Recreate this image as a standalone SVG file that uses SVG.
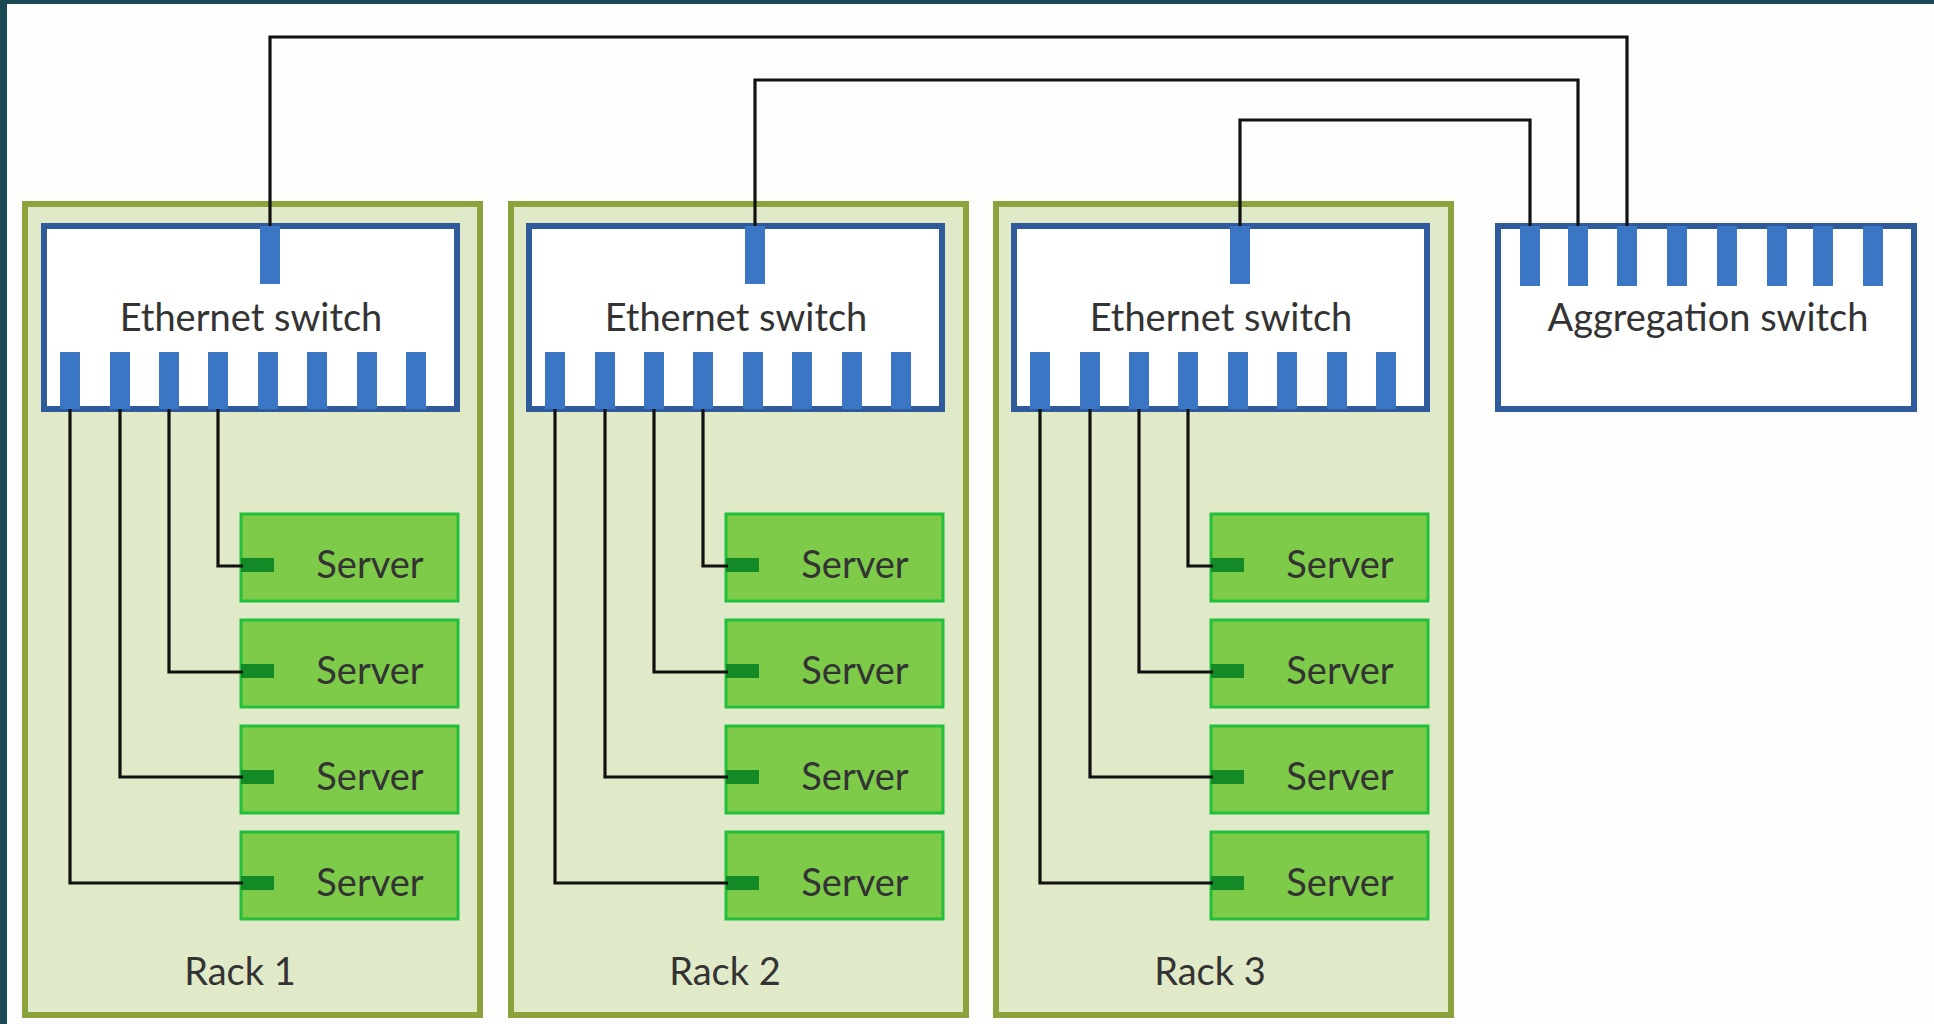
<svg xmlns="http://www.w3.org/2000/svg" width="1934" height="1024" viewBox="0 0 1934 1024">
<defs>
<style>
.rack{fill:#e0e9c8;stroke:#8aa33c;stroke-width:6}
.sw{fill:#ffffff;stroke:#2f5b9c;stroke-width:6}
.port{fill:#3a76c4}
.srv{fill:#7ecb4a;stroke:#22c03a;stroke-width:3}
.sport{fill:#138a26}
.lbl{font-family:Lato,"Liberation Sans",sans-serif;font-size:38px;fill:#333333;text-anchor:middle}
.wire{fill:none;stroke:#111111;stroke-width:3.2}
</style>
<g id="ethswitch">
<rect class="sw" x="44" y="226" width="413" height="183"/>
<rect class="port" x="260" y="226" width="20" height="58"/>
<rect class="port" x="60" y="352" width="20" height="57"/>
<rect class="port" x="110" y="352" width="20" height="57"/>
<rect class="port" x="159" y="352" width="20" height="57"/>
<rect class="port" x="208" y="352" width="20" height="57"/>
<rect class="port" x="258" y="352" width="20" height="57"/>
<rect class="port" x="307" y="352" width="20" height="57"/>
<rect class="port" x="357" y="352" width="20" height="57"/>
<rect class="port" x="406" y="352" width="20" height="57"/>
<text class="lbl" x="251" y="331">Ethernet switch</text>
</g>
<g id="server">
<rect class="srv" x="241" y="0" width="217" height="87"/>
<rect class="sport" x="241" y="44" width="33" height="14"/>
<text class="lbl" x="370" y="64">Server</text>
</g>
</defs>
<rect x="0" y="0" width="1934" height="1024" fill="#fdfdfb"/>
<rect x="0" y="0" width="1934" height="4" fill="#1b4a55"/>
<rect x="0" y="0" width="7" height="1024" fill="#1b4a55"/>

<g id="rack1">
<rect class="rack" x="25" y="204" width="455" height="811"/>
<text class="lbl" x="240" y="985">Rack 1</text>
</g>
<g id="rack2">
<rect class="rack" x="511" y="204" width="455" height="811"/>
<text class="lbl" x="725" y="985">Rack 2</text>
</g>
<g id="rack3">
<rect class="rack" x="996" y="204" width="455" height="811"/>
<text class="lbl" x="1210" y="985">Rack 3</text>
</g>

<g id="switch1"><use href="#ethswitch"/></g>
<g id="switch2"><use href="#ethswitch" x="485"/></g>
<g id="switch3"><use href="#ethswitch" x="970"/></g>

<g id="aggswitch">
<rect class="sw" x="1498" y="226" width="416" height="183"/>
<rect class="port" x="1520" y="226" width="20" height="60"/>
<rect class="port" x="1568" y="226" width="20" height="60"/>
<rect class="port" x="1617" y="226" width="20" height="60"/>
<rect class="port" x="1667" y="226" width="20" height="60"/>
<rect class="port" x="1717" y="226" width="20" height="60"/>
<rect class="port" x="1767" y="226" width="20" height="60"/>
<rect class="port" x="1813" y="226" width="20" height="60"/>
<rect class="port" x="1863" y="226" width="20" height="60"/>
<text class="lbl" x="1708" y="331">Aggregation switch</text>
</g>

<g id="servers-rack1">
<g id="r1s1"><use href="#server" y="514"/></g>
<g id="r1s2"><use href="#server" y="620"/></g>
<g id="r1s3"><use href="#server" y="726"/></g>
<g id="r1s4"><use href="#server" y="832"/></g>
</g>
<g id="servers-rack2">
<g id="r2s1"><use href="#server" x="485" y="514"/></g>
<g id="r2s2"><use href="#server" x="485" y="620"/></g>
<g id="r2s3"><use href="#server" x="485" y="726"/></g>
<g id="r2s4"><use href="#server" x="485" y="832"/></g>
</g>
<g id="servers-rack3">
<g id="r3s1"><use href="#server" x="970" y="514"/></g>
<g id="r3s2"><use href="#server" x="970" y="620"/></g>
<g id="r3s3"><use href="#server" x="970" y="726"/></g>
<g id="r3s4"><use href="#server" x="970" y="832"/></g>
</g>

<g id="connectors">
<path class="wire" d="M270 226 V37 H1627 V226"/>
<path class="wire" d="M755 226 V80 H1578 V226"/>
<path class="wire" d="M1240 226 V120 H1530 V226"/>
<g id="rack1-wires">
<path class="wire" d="M70 409 V883 H243"/>
<path class="wire" d="M120 409 V777 H243"/>
<path class="wire" d="M169 409 V672 H243"/>
<path class="wire" d="M218 409 V566 H243"/>
</g>
<g id="rack2-wires">
<path class="wire" d="M555 409 V883 H728"/>
<path class="wire" d="M605 409 V777 H728"/>
<path class="wire" d="M654 409 V672 H728"/>
<path class="wire" d="M703 409 V566 H728"/>
</g>
<g id="rack3-wires">
<path class="wire" d="M1040 409 V883 H1213"/>
<path class="wire" d="M1090 409 V777 H1213"/>
<path class="wire" d="M1139 409 V672 H1213"/>
<path class="wire" d="M1188 409 V566 H1213"/>
</g>
</g>
</svg>
